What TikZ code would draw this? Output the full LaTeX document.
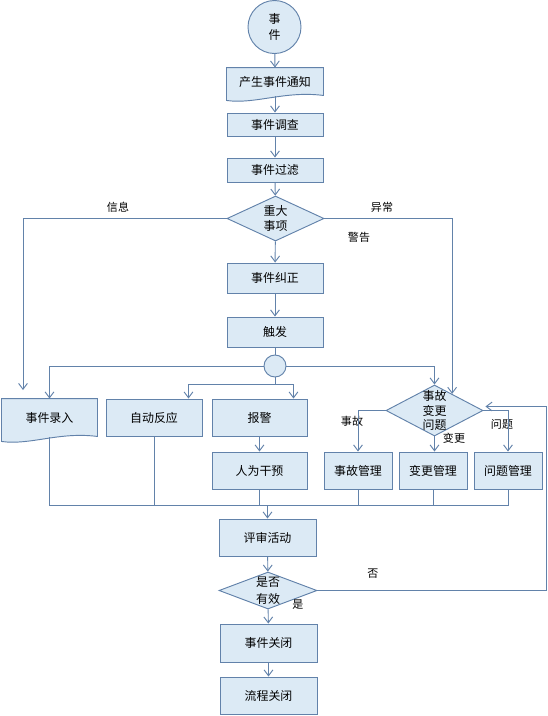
\documentclass[tikz,border=0pt]{standalone}
\usepackage{fontspec}
\setmainfont{Noto Sans CJK SC}
\usepackage{tikz}
\usetikzlibrary{arrows.meta,calc,positioning,shapes.geometric,backgrounds}
\definecolor{flowline}{RGB}{98,130,170}
\definecolor{flowfill}{RGB}{220,234,245}
% document shape with a wavy bottom edge
\newcommand{\docpath}[1]{%
  \draw[draw=flowline,fill=flowfill,line width=0.8pt] (#1.north west) -- (#1.north east)
    -- ($(#1.south east)+(0,-1)$)
    .. controls ($(#1.south east)!0.4!(#1.south west)+(0,-6)$) and ($(#1.south east)!0.7!(#1.south west)+(0,8)$)
    .. ($(#1.south west)+(0,4)$) -- cycle;}

\begin{document}
\begin{tikzpicture}[x=0.03cm,y=-0.03cm,>={Straight Barb[length=5pt,width=7.5pt]},
  draw=flowline,line width=0.8pt,
  every node/.style={font=\fontsize{10.2pt}{12pt}\selectfont},
  box/.style={draw=flowline,fill=flowfill,minimum width=2.88cm,minimum height=1.11cm,inner sep=0pt},
  doc/.style={minimum width=2.88cm,inner sep=0pt},
  decide/.style={diamond,aspect=2,draw=flowline,fill=flowfill,inner sep=-3pt,align=center},
  tag/.style={font=\fontsize{9.4pt}{11pt}\selectfont}]
  \useasboundingbox (0,0) rectangle (547,716);
  % Main column
  \node[circle,draw=flowline,fill=flowfill,minimum size=1.59cm,inner sep=0pt,align=center] (event) at (274.5,27) {事\\[1pt]件};
  \node[doc,minimum height=0.84cm] (notify) at (275,82) {产生事件通知};
  \node[box,minimum height=0.69cm] (survey) at (275,124.5) {事件调查};
  \node[box,minimum height=0.72cm] (filter) at (275,170) {事件过滤};
  \node[decide,minimum width=2.91cm,minimum height=1.35cm] (major) at (275.5,218.5) {重大\\事项};
  \node[box,minimum height=0.9cm] (fix) at (275,278) {事件纠正};
  \node[box,minimum height=0.9cm] (trigger) at (275,332) {触发};
  \node[circle,draw=flowline,fill=flowfill,minimum size=0.66cm,inner sep=0pt] (junction) at (275,366) {};
  % Branches
  \node[doc,minimum width=2.85cm,minimum height=1.14cm] (entry) at (49.5,418) {事件录入};
  \node[box] (auto) at (154,417.5) {自动反应};
  \node[box,minimum width=2.85cm] (alarm) at (259.5,417.5) {报警};
  \node[box,minimum width=2.85cm] (manual) at (259.5,470.5) {人为干预};
  \node[decide,minimum width=2.91cm,minimum height=1.53cm] (kind) at (434.5,410.5) {事故\\变更\\问题};
  \node[box,minimum width=2.04cm] (incident) at (358,470.5) {事故管理};
  \node[box,minimum width=2.04cm] (change) at (433,470.5) {变更管理};
  \node[box,minimum width=2.04cm] (problem) at (508,470.5) {问题管理};
  % Review and closing
  \node[box,minimum width=2.91cm] (review) at (267.5,537.5) {评审活动};
  \node[decide,minimum width=2.94cm,minimum height=1.11cm] (valid) at (268,590.5) {是否\\[3pt]有效};
  \node[box,minimum width=2.91cm,minimum height=1.14cm] (close) at (268.5,643) {事件关闭};
  \node[box,minimum width=2.91cm] (finish) at (268.5,695.5) {流程关闭};
  \begin{scope}[on background layer]
    \docpath{notify}
    \docpath{entry}
  \end{scope}
  % Labels
  \node[tag] (lblinfo) at (118,207) {信息};
  \node[tag] (lblodd) at (382,207) {异常};
  \node[tag] (lblwarn) at (359,237) {警告};
  \node[tag] (lblinc) at (352,421) {事故};
  \node[tag] (lblchg) at (454,438) {变更};
  \node[tag] (lblprb) at (502,424) {问题};
  \node[tag] (lblno) at (373,574) {否};
  \node[tag] (lblyes) at (298,605) {是};
  % Arrows
  \draw[->] (event) -- (notify.north);
  \draw[->] (notify.south) -- (survey);
  \draw[->] (survey) -- (filter);
  \draw[->] (filter) -- (major);
  \draw[->] (major) -- (fix);
  \draw[->] (fix) -- (trigger);
  \draw (trigger) -- (junction);
  \coordinate (infoend) at (23,390);
  \draw[->] (major.west) -| (infoend);
  \draw[->] (major.east) -| ($(kind.north)!0.36!(kind.east)$);
  \draw[->] (junction.west) -| (entry.north);
  \draw[->] (junction.east) -| (kind.north);
  \coordinate (split) at (275,384);
  \draw (junction.south) -- (split);
  \draw[->] (split) -| ($(auto.north east)+(-14,0)$);
  \draw[->] (split) -| ($(alarm.north east)+(-14,0)$);
  \draw[->] (alarm) -- (manual);
  \draw[->] (kind.west) -| (incident.north);
  \draw[->] (kind.south) -- (kind.south |- change.north);
  \draw[->] (kind.east) -| (problem.north);
  % Collecting line
  \coordinate (bus) at (49.5,505);
  \draw (entry.south) -- (entry.south |- bus) -- (problem.south |- bus) -- (problem.south);
  \draw (auto.south) -- (auto.south |- bus);
  \draw (manual.south) -- (manual.south |- bus);
  \draw (incident.south) -- (incident.south |- bus);
  \draw (change.south) -- (change.south |- bus);
  \draw[->] (review.north |- bus) -- (review.north);
  \draw[->] (review) -- (valid);
  \draw[->] (valid) -- (close);
  \draw[->] (close) -- (finish);
  \draw[->] (valid.east) -- ++(229,0) |- ($(kind.east)+(2,-4)$);
\end{tikzpicture}
\end{document}
